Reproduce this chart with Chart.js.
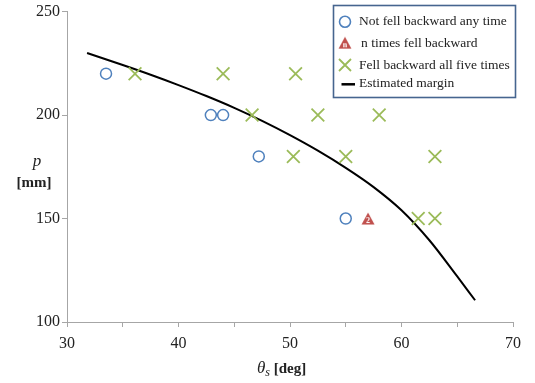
<!DOCTYPE html>
<html lang="en">
<head>
<meta charset="UTF-8">
<title>Estimated margin</title>
<script src="https://cdn.jsdelivr.net/npm/chart.js"></script>
<style>
  html, body { margin: 0; padding: 0; background: #fff; }
</style>
</head>
<body>
<canvas id="chart" width="535" height="383"></canvas>
<script>
// data
const notFellX = [33.5, 42.9, 44.0, 47.2, 55.0];
const notFellY = [220, 200, 200, 180, 150];

const nTimesX = [57.0];
const nTimesY = [150];
const nTimesCount = ['2'];

const allFiveX = [36.1, 44.0, 50.5, 46.6, 52.5, 58.0, 50.3, 55.0, 63.0, 61.5, 63.0];
const allFiveY = [220, 220, 220, 200, 200, 200, 180, 180, 180, 150, 150];

const marginX = [31.8, 35, 37.5, 40, 42.5, 45, 47.5, 50, 52.5, 55, 57.5, 60, 62.5, 65, 66.6];
const marginY = [230, 224.2, 219.5, 214.5, 209.2, 203.5, 197.2, 190.3, 182.8, 174.5, 165.2, 154, 139.5, 122, 110.5];

const xTicks = [30, 40, 50, 60, 70];
const yTicks = [100, 150, 200, 250];

const BLUE = '#4f81bd', GREEN = '#9bbb59', RED = '#c0504d';
const FONT = '"Liberation Serif", "Times New Roman", serif';

// red triangle marker with a small label inside
function triangleIcon(label) {
  const cv = document.createElement('canvas');
  cv.width = 14; cv.height = 13;
  const g = cv.getContext('2d');
  g.fillStyle = RED;
  g.beginPath();
  g.moveTo(7, 0.5); g.lineTo(13.5, 12.5); g.lineTo(0.5, 12.5);
  g.closePath(); g.fill();
  g.fillStyle = '#fff';
  g.font = 'bold 8px ' + FONT;
  g.textAlign = 'center'; g.textBaseline = 'middle';
  g.fillText(label, 7, 8.5);
  return cv;
}

const toPts = (xs, ys) => xs.map((x, i) => ({ x: x, y: ys[i] }));

const extras = {
  id: 'extras',
  afterDraw(chart) {
    const c = chart.ctx;
    c.save();
    c.fillStyle = '#222';
    c.textBaseline = 'alphabetic';

    // y title, two horizontal lines
    c.textAlign = 'center';
    c.font = 'italic 17px ' + FONT;
    c.fillText('p', 37, 166);
    c.font = 'bold 15px ' + FONT;
    c.fillText('[mm]', 34, 187);

    // x title: theta_s [deg]
    c.textAlign = 'left';
    const base = 373;
    let x = 257;
    c.font = 'italic 17px ' + FONT;
    c.fillText('θ', x, base);
    x += c.measureText('θ').width;
    c.font = 'italic 12px ' + FONT;
    c.fillText('s', x, base + 3);
    x += c.measureText('s').width;
    c.font = 'bold 15px ' + FONT;
    c.fillText(' [deg]', x, base);

    // legend box
    c.strokeStyle = '#46658f';
    c.lineWidth = 1.6;
    c.strokeRect(333.5, 5.5, 182, 92);

    const rows = [21.7, 43.3, 65, 83.3];
    const icons = [
      () => {
        c.strokeStyle = BLUE; c.lineWidth = 1.6;
        c.beginPath(); c.arc(345, rows[0], 5.5, 0, Math.PI * 2); c.stroke();
      },
      () => { c.drawImage(triangleLegend, 338, rows[1] - 7); },
      () => {
        c.strokeStyle = GREEN; c.lineWidth = 1.8;
        c.beginPath();
        c.moveTo(339, rows[2] - 6); c.lineTo(351, rows[2] + 6);
        c.moveTo(351, rows[2] - 6); c.lineTo(339, rows[2] + 6);
        c.stroke();
      },
      () => {
        c.strokeStyle = '#000'; c.lineWidth = 2.5;
        c.beginPath(); c.moveTo(341.5, rows[3] + 1); c.lineTo(355, rows[3] + 1); c.stroke();
      }
    ];
    c.font = '13.5px ' + FONT;
    c.textBaseline = 'middle';
    c.fillStyle = '#222';
    chart.data.datasets.forEach((ds, i) => {
      icons[i]();
      c.fillText(ds.label, i === 1 ? 361 : 359, rows[i]);
    });
    c.restore();
  }
};

const triangleLegend = triangleIcon('n');

new Chart(document.getElementById('chart'), {
  type: 'scatter',
  data: {
    datasets: [
      {
        label: 'Not fell backward any time',
        data: toPts(notFellX, notFellY),
        pointStyle: 'circle',
        pointRadius: 5.5,
        pointBorderWidth: 1.5,
        borderColor: BLUE,
        backgroundColor: 'rgba(0,0,0,0)'
      },
      {
        label: 'n times fell backward',
        data: toPts(nTimesX, nTimesY),
        pointStyle: nTimesCount.map(triangleIcon),
        pointRadius: 7,
        borderColor: RED,
        backgroundColor: RED
      },
      {
        label: 'Fell backward all five times',
        data: toPts(allFiveX, allFiveY),
        pointStyle: 'crossRot',
        pointRadius: 9,
        pointBorderWidth: 1.8,
        borderColor: GREEN,
        backgroundColor: GREEN
      },
      {
        label: 'Estimated margin',
        type: 'line',
        data: toPts(marginX, marginY),
        showLine: true,
        borderColor: '#000',
        borderWidth: 2,
        pointRadius: 0,
        cubicInterpolationMode: 'monotone',
        fill: false
      }
    ]
  },
  options: {
    responsive: false,
    animation: false,
    layout: { padding: { top: 11, right: 22, left: 0, bottom: 0 } },
    plugins: { legend: { display: false }, tooltip: { enabled: false } },
    scales: {
      x: {
        type: 'linear',
        min: 30, max: 70,
        afterFit: s => { s.height = 61; },
        border: { color: '#a6a6a6', width: 1 },
        grid: { drawOnChartArea: false, color: '#a6a6a6', tickLength: 5 },
        ticks: {
          stepSize: 5,
          autoSkip: false,
          maxRotation: 0,
          padding: 7,
          color: '#222',
          font: { family: FONT, size: 16 },
          callback: v => xTicks.includes(v) ? String(v) : ''
        }
      },
      y: {
        min: 100, max: 250,
        afterFit: s => { s.width = 67; },
        border: { color: '#a6a6a6', width: 1 },
        grid: { drawOnChartArea: false, color: '#a6a6a6', tickLength: 5 },
        ticks: {
          stepSize: 50,
          padding: 2,
          color: '#222',
          font: { family: FONT, size: 16 },
          callback: v => yTicks.includes(v) ? String(v) : ''
        }
      }
    }
  },
  plugins: [extras]
});
</script>
</body>
</html>
